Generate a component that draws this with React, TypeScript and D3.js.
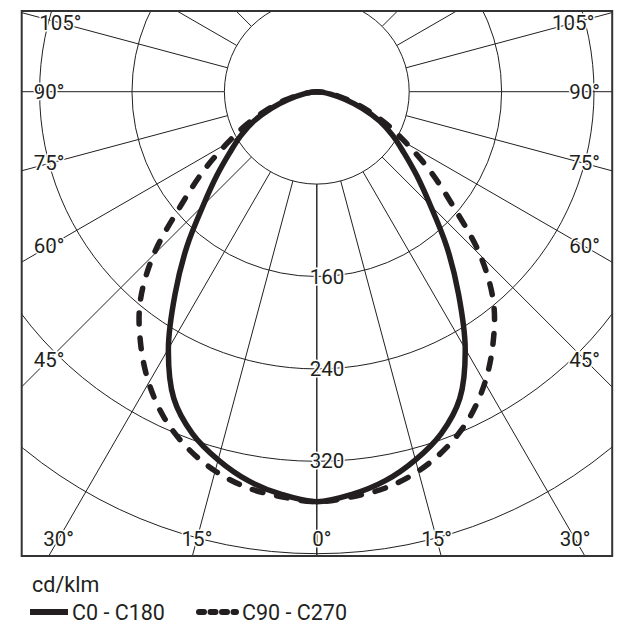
import React, { useEffect, useRef } from 'react';
import * as d3 from 'd3';

// Photometric data, cd/klm, read at 5° steps from 0° (down) to 90°
const gammaAngles = [0, 5, 10, 15, 20, 25, 30, 35, 40, 45, 50, 55, 60, 65, 70, 75, 80, 85, 90];
const c0c180 = [355, 350, 342, 330, 315, 293, 257, 214, 175, 139, 113, 92, 76, 60, 42, 25, 12, 4, 0];
const c90c270 = [355, 352, 348, 340, 328, 312, 291, 266, 238, 200, 154, 120, 90, 67, 46, 29, 15, 5, 0];

const ringValues = [80, 160, 240, 320, 400, 480];
const ringLabels = [160, 240, 320];
const spokeAngles = d3.range(0, 180, 15);
const angleLabels = [0, 15, 30, 45, 60, 75, 90, 105];

const seriesNames = ['C0 - C180', 'C90 - C270'];
const unitLabel = 'cd/klm';

const W = 637;
const H = 637;
const ink = '#231f20';
const font = 'Roboto, "Noto Sans", sans-serif';

const App: React.FC = () => {
  const svgRef = useRef<SVGSVGElement>(null);

  useEffect(() => {
    if (!svgRef.current) return;
    const svg = d3.select(svgRef.current);
    svg.selectAll('*').remove();

    // Frame and polar origin
    const frame = { x: 21.7, y: 11, w: 590.5, h: 545 };
    const cx = 316.8;
    const cy = 91.7;
    const r = d3.scaleLinear().domain([0, 80]).range([0, 92.4]);

    svg.append('defs').append('clipPath').attr('id', 'frameClip')
      .append('rect')
      .attr('x', frame.x).attr('y', frame.y)
      .attr('width', frame.w).attr('height', frame.h);

    const grid = svg.append('g').attr('clip-path', 'url(#frameClip)')
      .append('g')
      .attr('transform', `translate(${cx},${cy})`);

    // rings
    grid.selectAll('circle.ring')
      .data(ringValues.slice(1))
      .enter().append('circle')
      .attr('class', 'ring')
      .attr('r', d => r(d))
      .attr('fill', 'none')
      .attr('stroke', ink)
      .attr('stroke-width', 1);

    // spokes, both sides, gamma measured from straight down
    const sides = [1, -1];
    sides.forEach(s => {
      grid.append('g').selectAll('line')
        .data(spokeAngles)
        .enter().append('line')
        .attr('x1', d => s * r(80) * Math.sin(d * Math.PI / 180))
        .attr('y1', d => r(80) * Math.cos(d * Math.PI / 180))
        .attr('x2', d => s * 900 * Math.sin(d * Math.PI / 180))
        .attr('y2', d => 900 * Math.cos(d * Math.PI / 180))
        .attr('stroke', ink)
        .attr('stroke-width', 1);
    });

    // inner circle
    grid.append('circle')
      .attr('r', r(ringValues[0]))
      .attr('fill', '#fff')
      .attr('stroke', ink)
      .attr('stroke-width', 1);

    const halo = (sel: d3.Selection<SVGTextElement, any, any, any>) =>
      sel.attr('font-family', font)
        .attr('font-size', 20.5)
        .attr('fill', ink)
        .attr('stroke', '#fff')
        .attr('stroke-width', 3)
        .attr('paint-order', 'stroke')
        .attr('dominant-baseline', 'central');

    // ring value labels along the 0° spoke
    svg.selectAll('text.ringLabel')
      .data(ringLabels)
      .enter().append('text')
      .attr('class', 'ringLabel')
      .attr('x', cx - 7)
      .attr('y', d => cy + r(d))
      .text(d => String(d))
      .call(halo);

    // angle labels on an inset box
    const box = { l: 49, r: 584.6, t: 23, b: 539 };
    const labelPos = (deg: number, s: number) => {
      const a = deg * Math.PI / 180;
      const dx = s * Math.sin(a);
      const dy = Math.cos(a);
      let t = Infinity;
      if (dx > 1e-6) t = Math.min(t, (box.r - cx) / dx);
      if (dx < -1e-6) t = Math.min(t, (box.l - cx) / dx);
      if (dy > 1e-6) t = Math.min(t, (box.b - cy) / dy);
      if (dy < -1e-6) t = Math.min(t, (box.t - cy) / dy);
      return [cx + t * dx, cy + t * dy];
    };
    const labelData: { deg: number; s: number }[] = [];
    angleLabels.forEach(d => {
      labelData.push({ deg: d, s: -1 });
      if (d > 0) labelData.push({ deg: d, s: 1 });
    });
    svg.selectAll('text.angleLabel')
      .data(labelData)
      .enter().append('text')
      .attr('class', 'angleLabel')
      .attr('x', d => labelPos(d.deg, d.s)[0] + (d.deg === 0 ? 5 : 0))
      .attr('y', d => labelPos(d.deg, d.s)[1])
      .attr('text-anchor', 'middle')
      .text(d => `${d.deg}°`)
      .call(halo);

    // curves: signed angle, left half mirrors right half
    const curveLine = d3.lineRadial<[number, number]>()
      .angle(d => Math.PI - d[0] * Math.PI / 180)
      .radius(d => r(d[1]))
      .curve(d3.curveCatmullRom.alpha(0.5));

    const toPts = (vals: number[]): [number, number][] => {
      const right = gammaAngles.map((g, i) => [g, vals[i]] as [number, number]);
      const left = right.slice(1).map(([g, v]) => [-g, v] as [number, number]).reverse();
      return [...left, ...right];
    };

    const plot = svg.append('g').attr('transform', `translate(${cx},${cy})`);
    plot.append('path')
      .attr('d', curveLine(toPts(c90c270)))
      .attr('fill', 'none')
      .attr('stroke', ink)
      .attr('stroke-width', 5.5)
      .attr('stroke-dasharray', '11 14')
      .attr('stroke-linecap', 'round');
    plot.append('path')
      .attr('d', curveLine(toPts(c0c180)))
      .attr('fill', 'none')
      .attr('stroke', ink)
      .attr('stroke-width', 5.5);

    // frame
    svg.append('rect')
      .attr('x', frame.x).attr('y', frame.y)
      .attr('width', frame.w).attr('height', frame.h)
      .attr('fill', 'none')
      .attr('stroke', '#333')
      .attr('stroke-width', 2);

    // legend
    const lg = svg.append('g').attr('font-family', font).attr('font-size', 21.5).attr('fill', ink);
    lg.append('text').attr('x', 32).attr('y', 592).text(unitLabel);
    lg.append('line').attr('x1', 30).attr('x2', 68).attr('y1', 612).attr('y2', 612)
      .attr('stroke', ink).attr('stroke-width', 6);
    lg.append('text').attr('x', 72).attr('y', 619.5).text(seriesNames[0]);
    lg.append('line').attr('x1', 199).attr('x2', 236).attr('y1', 612).attr('y2', 612)
      .attr('stroke', ink).attr('stroke-width', 6)
      .attr('stroke-dasharray', '5 6.5').attr('stroke-linecap', 'round');
    lg.append('text').attr('x', 242).attr('y', 619.5).text(seriesNames[1]);
  }, []);

  return (
    <svg
      ref={svgRef}
      width={W}
      height={H}
      style={{ position: 'absolute', left: 0, top: 0, background: '#fff' }}
    />
  );
};

export default App;
